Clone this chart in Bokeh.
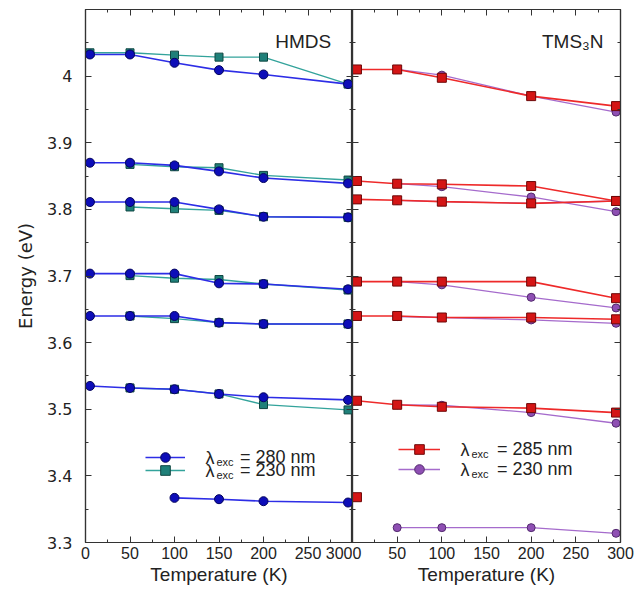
import numpy as np
from bokeh.plotting import figure
from bokeh.layouts import row
from bokeh.models import (Range1d, FixedTicker, LinearAxis, Label, Legend,
                          LegendItem, CustomJSTickFormatter)
from bokeh.embed import file_html
from bokeh.resources import INLINE

nan = float("nan")

# ---------------- data ----------------
hmds_T = [5, 50, 100, 150, 200, 295]
hmds_280 = [
    [4.0325, 4.0325, 4.020, 4.009, 4.0025, 3.988],
    [3.870, 3.870, 3.866, 3.857, 3.847, 3.839],
    [3.811, 3.811, 3.811, 3.800, 3.789, 3.788],
    [3.7036, 3.7036, 3.7036, 3.689, 3.688, 3.680],
    [3.640, 3.640, 3.640, 3.630, 3.628, 3.628],
    [3.535, 3.532, 3.530, 3.523, 3.518, 3.514],
    [nan, nan, 3.367, 3.365, 3.362, 3.360],
]
hmds_230 = [
    [4.035, 4.035, 4.0315, 4.0285, 4.0285, 3.988],
    [nan, 3.8675, 3.864, 3.8625, 3.851, 3.844],
    [nan, 3.8036, 3.801, 3.7985, 3.789, 3.788],
    [nan, 3.7006, 3.6967, 3.6947, 3.688, 3.679],
    [nan, 3.640, 3.636, 3.630, 3.628, 3.628],
    [nan, 3.532, 3.530, 3.523, 3.507, 3.499],
]
tms_T = [5, 50, 100, 200, 295]
tms_285 = [
    [4.010, 4.010, 3.9975, 3.970, 3.955],
    [3.8426, 3.8385, 3.8376, 3.835, 3.8126],
    [3.815, 3.8136, 3.8116, 3.809, 3.8126],
    [3.6916, 3.6916, 3.6916, 3.6916, 3.6667],
    [3.640, 3.640, 3.6377, 3.6377, 3.635],
    [3.5127, 3.5067, 3.5037, 3.5017, 3.495],
    [3.368, nan, nan, nan, nan],
]
tms_230 = [
    [nan, 4.010, 4.0015, 3.970, 3.946],
    [nan, 3.8385, 3.834, 3.8186, 3.7966],
    [nan, 3.8136, 3.8116, 3.809, 3.8126],
    [nan, 3.6916, 3.6867, 3.668, 3.652],
    [nan, 3.639, 3.6377, 3.634, 3.629],
    [nan, 3.5067, 3.506, 3.495, 3.479],
    [nan, 3.3223, 3.3223, 3.3223, 3.3138],
]
x_ticks = [0, 50, 100, 150, 200, 250, 300]
x_minor = [25, 75, 125, 175, 225, 275]
y_ticks = [3.3, 3.4, 3.5, 3.6, 3.7, 3.8, 3.9, 4.0]
y_minor = [3.35, 3.45, 3.55, 3.65, 3.75, 3.85, 3.95, 4.05]
panel_names = ["HMDS", "TMS\u2083N"]
legend_left = ["= 280 nm", "= 230 nm"]
legend_right = ["= 285 nm", "= 230 nm"]

# ---------------- styles ----------------
TXT = "#222222"
AX = "#333333"
FONT = "Liberation Sans"
BLUE_L, BLUE_M, BLUE_E = "#2d2de6", "#0d0db8", "#05055e"
TEAL_L, TEAL_M, TEAL_E = "#33a39b", "#1f8079", "#0f4642"
RED_L, RED_M, RED_E = "#ee2a2a", "#d41515", "#6e0808"
PUR_L, PUR_M, PUR_E = "#a56bcc", "#8e4fb3", "#532a6e"

yr = Range1d(3.3, 4.1)
yfmt = CustomJSTickFormatter(code="return Number(tick.toFixed(2)).toString()")


def style_axis(ax, labels=True, xaxis=True):
    ax.ticker = FixedTicker(ticks=x_ticks if xaxis else y_ticks,
                            minor_ticks=x_minor if xaxis else y_minor)
    ax.major_tick_in = 6
    ax.major_tick_out = 0
    ax.minor_tick_in = 3
    ax.minor_tick_out = 0
    ax.axis_line_color = AX
    ax.major_tick_line_color = AX
    ax.minor_tick_line_color = AX
    ax.axis_line_width = 1.2
    if labels:
        ax.major_label_text_color = TXT
        ax.axis_label_text_color = TXT
        ax.axis_label_text_font_style = "normal"
    else:
        ax.formatter = CustomJSTickFormatter(code="return ''")
        ax.major_label_text_font_size = "1px"
        ax.major_label_standoff = 0
        ax.axis_label = None
        ax.axis_label_standoff = 0


def make_fig(width, left_border, right_border, show_ylabels):
    p = figure(width=width, height=590, x_range=Range1d(0, 300), y_range=yr,
               output_backend="svg", toolbar_location=None,
               min_border_left=left_border, min_border_right=right_border,
               min_border_top=9, min_border_bottom=48)
    p.grid.visible = False
    p.outline_line_color = AX
    p.outline_line_width = 1.2
    p.background_fill_color = "white"
    p.border_fill_color = "white"
    # below x axis
    xa = p.xaxis[0]
    style_axis(xa, True, True)
    xa.axis_label = "Temperature (K)"
    xa.axis_label_text_font = FONT
    xa.axis_label_text_font_size = "19px"
    xa.major_label_text_font = FONT
    xa.major_label_text_font_size = "16px"
    xa.major_label_standoff = 4
    xa.axis_label_standoff = 2
    # left y axis
    ya = p.yaxis[0]
    if show_ylabels:
        style_axis(ya, True, False)
        ya.formatter = yfmt
        ya.axis_label = "Energy (eV)"
        ya.axis_label_text_font = "DejaVu Sans"
        ya.axis_label_text_font_size = "18px"
        ya.major_label_text_font = "DejaVu Sans"
        ya.major_label_text_font_size = "16px"
        ya.major_label_standoff = 13
        ya.axis_label_standoff = 8
    else:
        style_axis(ya, False, False)
    top = LinearAxis()
    style_axis(top, False, True)
    p.add_layout(top, "above")
    right = LinearAxis()
    style_axis(right, False, False)
    p.add_layout(right, "right")
    return p


def draw(p, T, rows, lcol, mcol, ecol, marker, size, lw):
    first = None
    for vals in rows:
        y = np.array(vals, dtype=float)
        l = p.line(T, y, line_color=lcol, line_width=lw)
        s = p.scatter(T, y, marker=marker, size=size, fill_color=mcol,
                      line_color=ecol, line_width=1)
        if first is None:
            first = [l, s]
    return first


def add_legend(p, label, renderers, x, yc, glyph_w, standoff):
    leg = Legend(items=[LegendItem(label=label, renderers=renderers)],
                 location=(x, yc - 12), glyph_width=glyph_w, glyph_height=24,
                 label_height=24, label_standoff=standoff, padding=0, margin=0,
                 spacing=0, border_line_alpha=0, background_fill_alpha=0,
                 label_text_font=FONT, label_text_font_size="18px",
                 label_text_color=TXT)
    p.add_layout(leg)


def add_lambda(p, x, yc):
    p.add_layout(Label(x=x, y=yc, x_units="screen", y_units="screen", text="\u03bb",
                       text_font=FONT, text_font_size="18px", text_color=TXT,
                       text_baseline="middle"))
    p.add_layout(Label(x=x + 11, y=yc - 4, x_units="screen", y_units="screen",
                       text="exc", text_font=FONT, text_font_size="11px",
                       text_color=TXT, text_baseline="middle"))


# ---------------- left panel (HMDS) ----------------
p1 = make_fig(352, 85, 0, True)
r230 = draw(p1, hmds_T, hmds_230, TEAL_L, TEAL_M, TEAL_E, "square", 8, 1.4)
r280 = draw(p1, hmds_T, hmds_280, BLUE_L, BLUE_M, BLUE_E, "circle", 9, 1.6)
p1.add_layout(Label(x=276, y=4.052, text=panel_names[0], text_font=FONT,
                    text_font_size="19px", text_color=TXT, text_align="right",
                    text_baseline="middle"))
add_legend(p1, legend_left[0], r280, 60, 85, 40, 55)
add_legend(p1, legend_left[1], r230, 60, 72, 40, 55)
add_lambda(p1, 120, 85)
add_lambda(p1, 120, 72)

# ---------------- right panel (TMS3N) ----------------
p2 = make_fig(286, 0, 18, False)
q230 = draw(p2, tms_T, tms_230, PUR_L, PUR_M, PUR_E, "circle", 8, 1.3)
q285 = draw(p2, tms_T, tms_285, RED_L, RED_M, RED_E, "square", 9, 1.6)
p2.add_layout(Label(x=281, y=4.052, text=panel_names[1], text_font=FONT,
                    text_font_size="19px", text_color=TXT, text_align="right",
                    text_baseline="middle"))
add_legend(p2, legend_right[0], q285, 46, 93, 42, 57)
add_legend(p2, legend_right[1], q230, 46, 73, 42, 57)
add_lambda(p2, 108, 93)
add_lambda(p2, 108, 73)

layout = row(p1, p2, spacing=0)
open("out.html", "w").write(file_html(layout, INLINE))
